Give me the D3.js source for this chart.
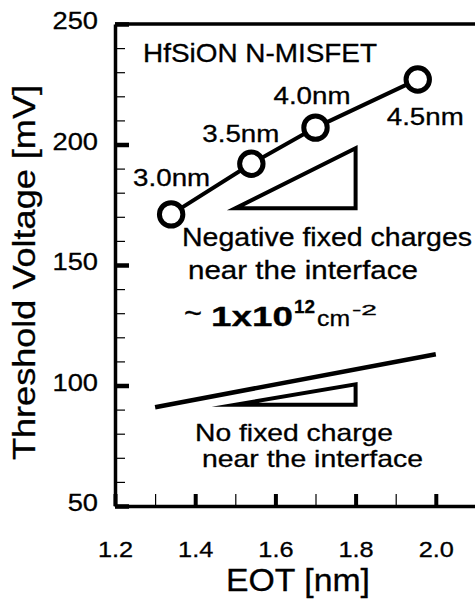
<!DOCTYPE html>
<html>
<head>
<meta charset="utf-8">
<script src="https://cdn.jsdelivr.net/npm/d3@7"></script>
<style>
  html, body { margin: 0; padding: 0; background: #fff; }
  svg { display: block; }
  text { font-family: "Liberation Sans", Arial, Helvetica, sans-serif; fill: #000; stroke: #000; stroke-width: 0.3; }
</style>
</head>
<body>
<svg id="chart" width="475" height="608"></svg>
<script>
// Threshold voltage vs. EOT for HfSiON N-MISFETs (physical thickness labels per point)
const eot = [1.34, 1.54, 1.70, 1.955];
const vth = [171, 192, 207, 227];
const thickness = ["3.0nm", "3.5nm", "4.0nm", "4.5nm"];

// Axis ticks
const xMajor = [1.2, 1.4, 1.6, 1.8, 2.0];
const xMinor = [1.3, 1.5, 1.7, 1.9];
const yMajor = [50, 100, 150, 200, 250];
const yMinor = [60, 70, 80, 90, 110, 120, 130, 140, 160, 170, 180, 190, 210, 220, 230, 240];

// Reference guides: no-charge trend and the two slope triangles
const noChargeLine = [[1.3, 91], [2.0, 113]];
const slopeUpper = [[1.5, 173.5], [1.8, 173.5], [1.8, 198.5]];
const slopeLower = [[1.5, 92], [1.8, 92], [1.8, 100.5]];

const svg = d3.select("#chart");
const x = d3.scaleLinear().domain([1.2, 2.1]).range([115, 475.9]);
const y = d3.scaleLinear().domain([50, 250]).range([506, 24]);

// stretch rendered text horizontally by a factor
function widen(sel, f) {
  sel.each(function () {
    const L = this.getComputedTextLength();
    d3.select(this).attr("textLength", L * f).attr("lengthAdjust", "spacingAndGlyphs");
  });
}
function fitTo(sel, w) {
  sel.attr("textLength", w).attr("lengthAdjust", "spacingAndGlyphs");
}

// minor ticks
svg.append("g").attr("transform", `translate(${x(1.2)},0)`)
  .call(d3.axisLeft(y).tickValues(yMinor).tickSize(-10).tickSizeOuter(0).tickFormat(""))
  .call(g => g.select(".domain").remove())
  .call(g => g.selectAll("line").attr("stroke", "#000").attr("stroke-width", 1.2));
svg.append("g").attr("transform", `translate(0,${y(50)})`)
  .call(d3.axisBottom(x).tickValues(xMinor).tickSize(-12).tickSizeOuter(0).tickFormat(""))
  .call(g => g.select(".domain").remove())
  .call(g => g.selectAll("line").attr("stroke", "#000").attr("stroke-width", 1.2));

// major y axis
const gy = svg.append("g").attr("transform", `translate(${x(1.2)},0)`)
  .call(d3.axisLeft(y).tickValues(yMajor).tickSize(-14).tickSizeOuter(0).tickPadding(17).tickFormat(d3.format("d")));
gy.select(".domain").attr("stroke", "#000").attr("stroke-width", 3.5);
gy.selectAll("line").attr("stroke", "#000").attr("stroke-width", 4.5);
gy.selectAll("text").attr("font-size", 23.5).attr("dy", 4.5).attr("fill", "#000")
  .style("font-family", '"Liberation Sans", Arial, sans-serif');
widen(gy.selectAll("text"), 1.16);

// major x axis
const gx = svg.append("g").attr("transform", `translate(0,${y(50)})`)
  .call(d3.axisBottom(x).tickValues(xMajor).tickSize(-12).tickSizeOuter(0).tickFormat(d3.format(".1f")));
gx.select(".domain").attr("stroke", "#000").attr("stroke-width", 3.5);
gx.selectAll("line").attr("stroke", "#000").attr("stroke-width", 4);
gx.selectAll("text").attr("font-size", 22).attr("y", 51).attr("dy", 0).attr("fill", "#000")
  .style("font-family", '"Liberation Sans", Arial, sans-serif');
widen(gx.selectAll("text"), 1.15);

// top frame line
svg.append("line")
  .attr("x1", x(1.2)).attr("x2", x(2.1)).attr("y1", y(250)).attr("y2", y(250))
  .attr("stroke", "#000").attr("stroke-width", 3.5);

// axis titles
svg.append("text").attr("transform", "translate(35,272.5) rotate(-90)")
  .attr("text-anchor", "middle").attr("font-size", 31)
  .text("Threshold Voltage [mV]").call(fitTo, 375);
svg.append("text").attr("x", 298).attr("y", 591)
  .attr("text-anchor", "middle").attr("font-size", 31)
  .text("EOT [nm]").call(fitTo, 144);

// device label
svg.append("text").attr("x", 143).attr("y", 62).attr("font-size", 25)
  .text("HfSiON N-MISFET").call(fitTo, 234);

// guides
const line = d3.line().x(d => x(d[0])).y(d => y(d[1]));
svg.append("path").attr("d", line(noChargeLine))
  .attr("fill", "none").attr("stroke", "#000").attr("stroke-width", 4.5);
[slopeUpper, slopeLower].forEach(t => {
  svg.append("path").attr("d", line(t) + "Z")
    .attr("fill", "none").attr("stroke", "#000").attr("stroke-width", 4)
    .attr("stroke-linejoin", "miter").attr("stroke-miterlimit", 20);
});

// data line and markers
const pts = eot.map((e, i) => [e, vth[i]]);
svg.append("path").attr("d", line(pts))
  .attr("fill", "none").attr("stroke", "#000").attr("stroke-width", 4);
svg.selectAll("circle.pt").data(pts).join("circle").attr("class", "pt")
  .attr("cx", d => x(d[0])).attr("cy", d => y(d[1])).attr("r", 11.7)
  .attr("fill", "#fff").attr("stroke", "#000").attr("stroke-width", 5);

// thickness labels, offset from their markers
const labelOffset = [[-38, -28.5], [-49, -21.5], [-42, -23.5], [-31, 46]];
svg.selectAll("text.thk").data(pts).join("text").attr("class", "thk")
  .attr("x", (d, i) => x(d[0]) + labelOffset[i][0])
  .attr("y", (d, i) => y(d[1]) + labelOffset[i][1])
  .attr("font-size", 23)
  .text((d, i) => thickness[i])
  .call(fitTo, 77);

// annotations
svg.append("text").attr("x", 182).attr("y", 246).attr("font-size", 26)
  .text("Negative fixed charges").call(fitTo, 290);
svg.append("text").attr("x", 188).attr("y", 278.5).attr("font-size", 26)
  .text("near the interface").call(fitTo, 230);
svg.append("text").attr("x", 184).attr("y", 323).attr("font-size", 30).text("~").call(fitTo, 18);
svg.append("text").attr("x", 211).attr("y", 326).attr("font-size", 28).attr("font-weight", "bold")
  .text("1x10").call(fitTo, 82);
svg.append("text").attr("x", 294).attr("y", 313).attr("font-size", 18).attr("font-weight", "bold")
  .text("12").call(fitTo, 21);
svg.append("text").attr("x", 317).attr("y", 326).attr("font-size", 22).text("cm").call(fitTo, 33);
svg.append("text").attr("x", 352).attr("y", 315).attr("font-size", 15).text("-2").call(fitTo, 25);

svg.append("text").attr("x", 195).attr("y", 441).attr("font-size", 24)
  .text("No fixed charge").call(fitTo, 198);
svg.append("text").attr("x", 202).attr("y", 467).attr("font-size", 24)
  .text("near the interface").call(fitTo, 221);
</script>
</body>
</html>
